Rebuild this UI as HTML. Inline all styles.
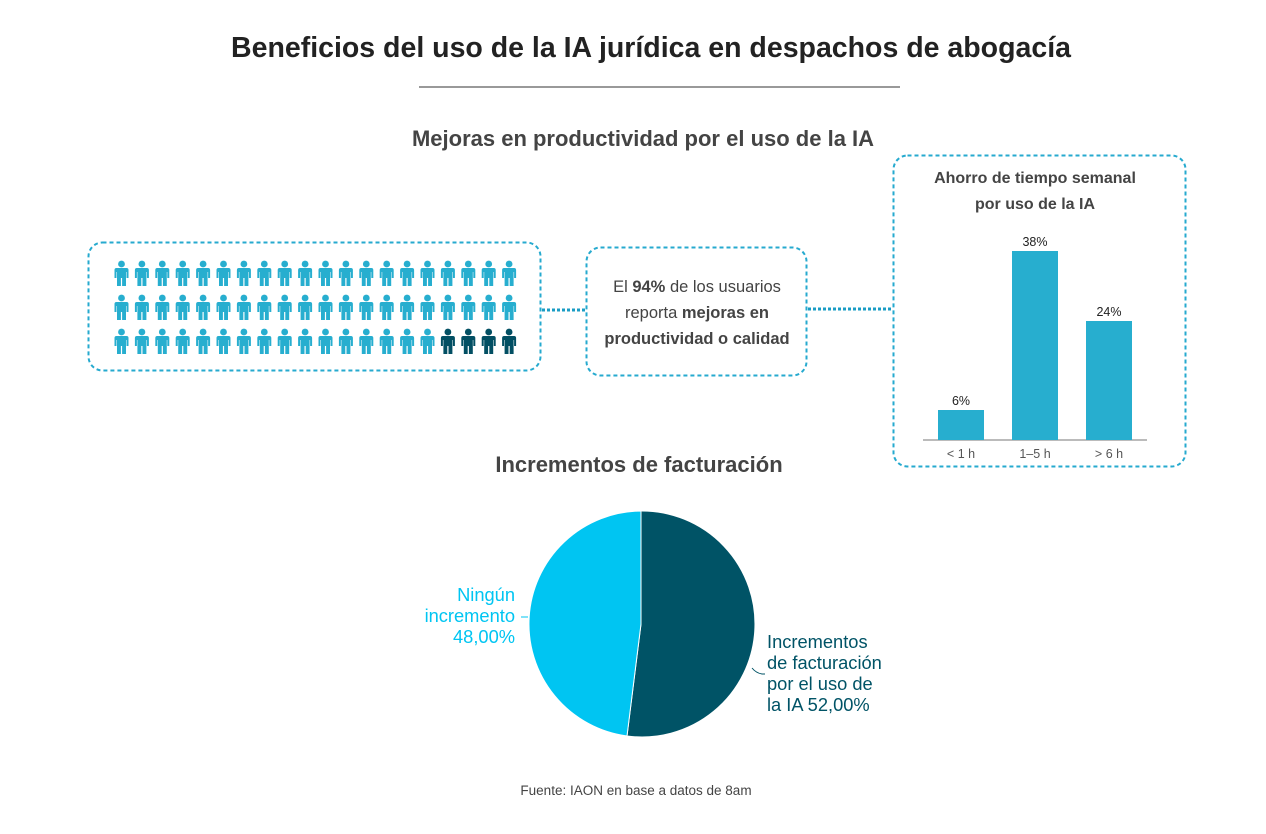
<!DOCTYPE html>
<html><head><meta charset="utf-8"><style>
body{margin:0;width:1266px;height:834px;background:#fff;position:relative;font-family:"Liberation Sans",sans-serif;overflow:hidden}
</style></head><body>
<svg width="1266" height="834" style="position:absolute;left:0;top:0">
<defs>
<g id="p"><circle cx="0" cy="-11" r="3.4"/><path d="M-7,-5 Q-7,-7 -5,-7 L5,-7 Q7,-7 7,-5 L7,3 L5,3 L5,-3 L4.5,-3 L4.5,11 L0.6,11 L0.6,3 L-0.6,3 L-0.6,11 L-4.5,11 L-4.5,-3 L-5,-3 L-5,3 L-7,3 Z"/></g>
</defs>
<line x1="419" y1="87" x2="900" y2="87" stroke="#333" stroke-width="1"/>
<rect x="88.5" y="242.5" width="452" height="128" rx="14" fill="none" stroke="#26aacf" stroke-width="2" stroke-dasharray="4,3"/>
<rect x="586.5" y="247.5" width="220" height="128" rx="14" fill="none" stroke="#26aacf" stroke-width="2" stroke-dasharray="4,3"/>
<rect x="893.5" y="155.5" width="292" height="311" rx="14" fill="none" stroke="#26aacf" stroke-width="2" stroke-dasharray="4,3"/>
<line x1="542" y1="310" x2="586" y2="310" stroke="#1a9cc4" stroke-width="3" stroke-dasharray="3,2"/>
<line x1="808" y1="309" x2="892" y2="309" stroke="#1a9cc4" stroke-width="3" stroke-dasharray="3,2"/>
<g id="people"></g>
<line x1="923" y1="440" x2="1147" y2="440" stroke="#777" stroke-width="1"/>
<rect x="938" y="410" width="46" height="30" fill="#27aecf"/>
<rect x="1012" y="251" width="46" height="189" fill="#27aecf"/>
<rect x="1086" y="321" width="46" height="119" fill="#27aecf"/>
<text x="961" y="405" font-size="12.5" text-anchor="middle" fill="#222">6%</text>
<text x="1035" y="246" font-size="12.5" text-anchor="middle" fill="#222">38%</text>
<text x="1109" y="316" font-size="12.5" text-anchor="middle" fill="#222">24%</text>
<text x="961" y="458" font-size="12.5" text-anchor="middle" fill="#555">&lt; 1 h</text>
<text x="1035" y="458" font-size="12.5" text-anchor="middle" fill="#555">1–5 h</text>
<text x="1109" y="458" font-size="12.5" text-anchor="middle" fill="#555">&gt; 6 h</text>
<path d="M641,624 L641,511 A113,113 0 1 1 627,736 Z" fill="#005366" stroke="#fff" stroke-width="1"/>
<path d="M641,624 L627,736 A113,113 0 0 1 641,511 Z" fill="#00c5f2" stroke="#fff" stroke-width="1"/>
<line x1="521" y1="617" x2="528" y2="617" stroke="#00c5f2" stroke-width="1"/>
<path d="M752,668 Q756,673 762,674 L765,674" fill="none" stroke="#005366" stroke-width="1"/>
<text x="651" y="57" font-size="28.5" font-weight="bold" text-anchor="middle" fill="#222">Beneficios del uso de la IA jurídica en despachos de abogacía</text>
<text x="643" y="146" font-size="22" font-weight="bold" text-anchor="middle" fill="#444">Mejoras en productividad por el uso de la IA</text>
<text x="639" y="472" font-size="22" font-weight="bold" text-anchor="middle" fill="#444">Incrementos de facturación</text>
<text x="1035" y="183" font-size="16" font-weight="bold" text-anchor="middle" fill="#444">Ahorro de tiempo semanal</text>
<text x="1035" y="209" font-size="16" font-weight="bold" text-anchor="middle" fill="#444">por uso de la IA</text>
<g font-size="16.5" text-anchor="middle" fill="#444">
<text x="697" y="292">El <tspan font-weight="bold">94%</tspan> de los usuarios</text>
<text x="697" y="318">reporta <tspan font-weight="bold">mejoras en</tspan></text>
<text x="697" y="344" font-weight="bold">productividad o calidad</text>
</g>
<g font-size="18.3" fill="#00c5f2" text-anchor="end">
<text x="515" y="601">Ningún</text><text x="515" y="622">incremento</text><text x="515" y="643">48,00%</text>
</g>
<g font-size="18.3" fill="#005366">
<text x="767" y="648">Incrementos</text><text x="767" y="669">de facturación</text><text x="767" y="690">por el uso de</text><text x="767" y="711">la IA 52,00%</text>
</g>
<text x="636" y="795" font-size="13.5" text-anchor="middle" fill="#444">Fuente: IAON en base a datos de 8am</text>
</svg>
<script>
var g=document.getElementById('people'),s='';
for(var r=0;r<3;r++)for(var c=0;c<20;c++){var x=121.5+c*20.4,y=275+r*34;var col=(r==2&&c>=16)?'#024f63':'#27aecf';s+='<use href="#p" x="'+x+'" y="'+y+'" fill="'+col+'"/>';}
g.innerHTML=s;
</script>
</body></html>
